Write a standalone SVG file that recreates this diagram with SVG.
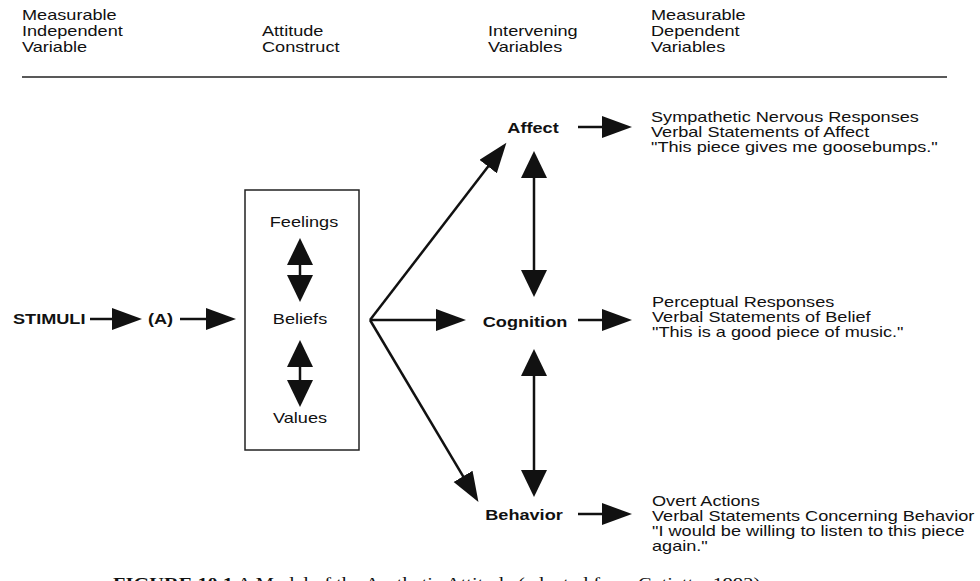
<svg xmlns="http://www.w3.org/2000/svg" width="980" height="581" viewBox="0 0 980 581">
<style>
text{font-family:"Liberation Sans",Arial,sans-serif;font-size:14.5px;fill:#111}
.b{font-weight:bold}
.cap{font-family:"Liberation Serif","Times New Roman",serif;font-size:17px}
.ln{stroke:#111;stroke-width:2.5;fill:none}
.rule{stroke:#222;stroke-width:1.5}
.box{fill:none;stroke:#222;stroke-width:1.5}
</style>
<defs>
<marker id="ah" markerUnits="userSpaceOnUse" markerWidth="32" markerHeight="24" refX="1" refY="11" orient="auto"><path d="M0,0 L30,11 L0,22 z" fill="#111"/></marker>
<marker id="av" markerUnits="userSpaceOnUse" markerWidth="30" markerHeight="28" refX="1" refY="13" orient="auto-start-reverse"><path d="M0,0 L27,13 L0,26 z" fill="#111"/></marker>
</defs>
<rect width="980" height="581" fill="#fff"/>
<g id="header">
<text transform="translate(22 20) scale(1.25 1)">Measurable</text>
<text transform="translate(22 36) scale(1.25 1)">Independent</text>
<text transform="translate(22 52) scale(1.25 1)">Variable</text>
<text transform="translate(262 36) scale(1.25 1)">Attitude</text>
<text transform="translate(262 52) scale(1.25 1)">Construct</text>
<text transform="translate(488 36) scale(1.25 1)">Intervening</text>
<text transform="translate(488 52) scale(1.25 1)">Variables</text>
<text transform="translate(651 20) scale(1.25 1)">Measurable</text>
<text transform="translate(651 36) scale(1.25 1)">Dependent</text>
<text transform="translate(651 52) scale(1.25 1)">Variables</text>
<line class="rule" x1="22" y1="77" x2="947" y2="77"/>
</g>
<g id="stimuli"><text class="b" transform="translate(13 324) scale(1.25 1)">STIMULI</text></g>
<g id="a"><text class="b" transform="translate(148 324) scale(1.25 1)">(A)</text></g>
<g id="attitude">
<rect class="box" x="245" y="190" width="114" height="260"/>
<text transform="translate(304 227) scale(1.25 1)" text-anchor="middle">Feelings</text>
<text transform="translate(300 324) scale(1.25 1)" text-anchor="middle">Beliefs</text>
<text transform="translate(300 423) scale(1.25 1)" text-anchor="middle">Values</text>
</g>
<g id="affect"><text class="b" transform="translate(533 133) scale(1.25 1)" text-anchor="middle">Affect</text></g>
<g id="cognition"><text class="b" transform="translate(525 327) scale(1.25 1)" text-anchor="middle">Cognition</text></g>
<g id="behavior"><text class="b" transform="translate(524 520) scale(1.25 1)" text-anchor="middle">Behavior</text></g>
<g id="dv-affect">
<text transform="translate(651 122) scale(1.25 1)">Sympathetic Nervous Responses</text>
<text transform="translate(651 137) scale(1.25 1)">Verbal Statements of Affect</text>
<text transform="translate(651 152) scale(1.25 1)">"This piece gives me goosebumps."</text>
</g>
<g id="dv-cognition">
<text transform="translate(652 307) scale(1.25 1)">Perceptual Responses</text>
<text transform="translate(652 322) scale(1.25 1)">Verbal Statements of Belief</text>
<text transform="translate(652 337) scale(1.25 1)">"This is a good piece of music."</text>
</g>
<g id="dv-behavior">
<text transform="translate(652 506) scale(1.25 1)">Overt Actions</text>
<text transform="translate(652 521) scale(1.25 1)">Verbal Statements Concerning Behavior</text>
<text transform="translate(652 536) scale(1.25 1)">"I would be willing to listen to this piece</text>
<text transform="translate(652 551) scale(1.25 1)">again."</text>
</g>
<g id="connectors">
<path class="ln" d="M90,319 L113,319" marker-end="url(#ah)"/>
<path class="ln" d="M180,319 L207,319" marker-end="url(#ah)"/>
<path class="ln" d="M370,320 L437,320" marker-end="url(#ah)"/>
<path class="ln" d="M370,320 L488.7,165.8" marker-end="url(#ah)"/>
<path class="ln" d="M370,320 L463.6,477.2" marker-end="url(#ah)"/>
<path class="ln" d="M578,127 L603,127" marker-end="url(#ah)"/>
<path class="ln" d="M578,320 L603,320" marker-end="url(#ah)"/>
<path class="ln" d="M578,514 L603,514" marker-end="url(#ah)"/>
<path class="ln" d="M300,264 L300,276" marker-start="url(#av)" marker-end="url(#av)"/>
<path class="ln" d="M300,366 L300,381" marker-start="url(#av)" marker-end="url(#av)"/>
<path class="ln" d="M534,177 L534,271" marker-start="url(#av)" marker-end="url(#av)"/>
<path class="ln" d="M534,375 L534,471" marker-start="url(#av)" marker-end="url(#av)"/>
</g>
<g id="caption"><text class="cap" transform="translate(113 589) scale(1.2 1)"><tspan font-weight="bold">FIGURE 10.1</tspan>  A Model of the Aesthetic Attitude (adapted from Cutietta, 1992)</text></g>
</svg>
